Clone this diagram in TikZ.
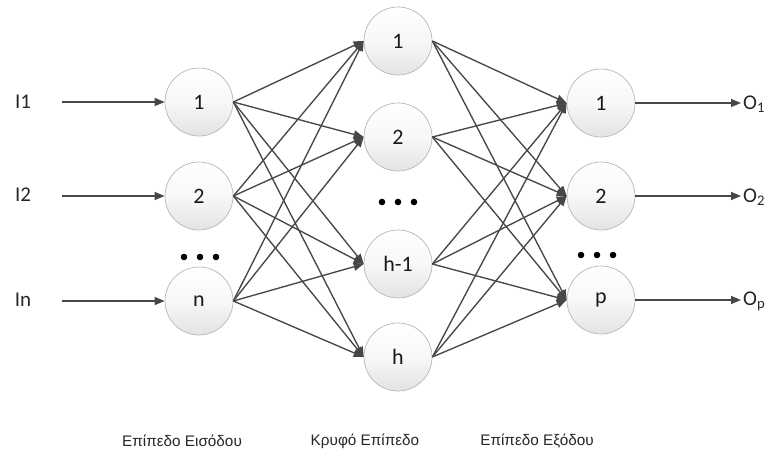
\documentclass[tikz,border=0pt]{standalone}
\usepackage{fontspec}
\setmainfont{Carlito}
\newfontfamily\arialf{Liberation Sans}
\usetikzlibrary{arrows.meta,shadings}
\begin{document}
\begin{tikzpicture}[x=1pt,y=-1pt,
  neuron/.style={circle, minimum size=68pt, inner sep=0pt, draw=black!28, line width=0.7pt,
    top color=white, bottom color=black!11, middle color=black!3, font=\fontsize{22}{26}\selectfont, text=black!90},
  conn/.style={draw=black!72, line width=1.35pt, -{Triangle[length=10pt,width=8pt]}},
  lbl/.style={font=\fontsize{21}{25}\selectfont, inner sep=0pt, text=black!85},
  layerlbl/.style={font=\arialf\fontsize{15.3}{18}\selectfont, inner sep=0pt, text=black!85},
  dotc/.style={fill=black, draw=none}]
\useasboundingbox (0,0) rectangle (769,461);
% input layer
\node[neuron] (i1) at (199,102) {1};
\node[neuron] (i2) at (199,196) {2};
\node[neuron] (in) at (199,301) {n};
% hidden layer
\node[neuron] (h1) at (398,41) {1};
\node[neuron] (h2) at (398,137) {2};
\node[neuron] (h3) at (398,264) {h-1};
\node[neuron] (h4) at (398,357) {h};
% output layer
\node[neuron] (o1) at (601,103) {1};
\node[neuron] (o2) at (601,196) {2};
\node[neuron] (op) at (601,300) {p};
% input labels
\node[lbl] (l1) at (23,102) {I1};
\node[lbl] (l2) at (23,195) {I2};
\node[lbl] (ln) at (23,300) {In};
\coordinate (s1) at (62,102);
\coordinate (s2) at (62,196);
\coordinate (sn) at (62,301);
\draw[conn] (s1) -- (i1.west);
\draw[conn] (s2) -- (i2.west);
\draw[conn] (sn) -- (in.west);
% input -> hidden
\foreach \a in {i1,i2,in}{
  \foreach \b in {h1,h2,h3,h4}{
    \draw[conn] (\a.east) -- (\b.west);
  }
}
% hidden -> output
\foreach \a in {h1,h2,h3,h4}{
  \foreach \b in {o1,o2,op}{
    \draw[conn] (\a.east) -- (\b.west);
  }
}
% outputs
\coordinate (e1) at (741,103);
\coordinate (e2) at (741,196);
\coordinate (ep) at (741,300);
\draw[conn] (o1.east) -- (e1);
\draw[conn] (o2.east) -- (e2);
\draw[conn] (op.east) -- (ep);
\node[lbl, anchor=west] (t1) at (743,104) {O\textsubscript{1}};
\node[lbl, anchor=west] (t2) at (743,197) {O\textsubscript{2}};
\node[lbl, anchor=west] (tp) at (743,301) {O\textsubscript{p}};
% dots
\foreach \x in {-16,0,16}{
  \fill[dotc] (200+\x,257) circle (3.3);
  \fill[dotc] (398+\x,202) circle (3.3);
  \fill[dotc] (597+\x,255) circle (3.3);
}
% layer labels
\node[layerlbl] (L1) at (182,441) {Επίπεδο Εισόδου};
\node[layerlbl] (L2) at (365,441) {Κρυφό Επίπεδο};
\node[layerlbl] (L3) at (537,441) {Επίπεδο Εξόδου};
\end{tikzpicture}
\end{document}
